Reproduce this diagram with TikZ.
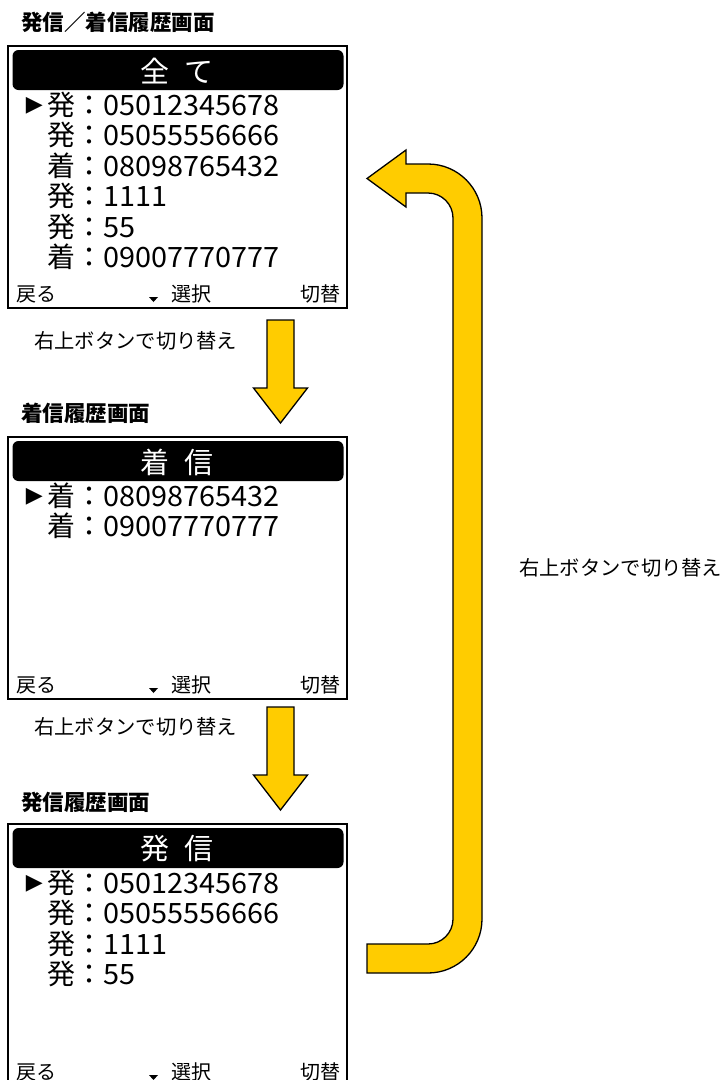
\documentclass[tikz,border=0pt]{standalone}
\usepackage{fontspec}
\setmainfont{Noto Sans CJK JP}
\newfontfamily\jpnum[FakeStretch=1.03]{Noto Sans CJK JP}
\newfontfamily\sym{DejaVu Sans}

\definecolor{arrowyellow}{HTML}{FFCC00}

\newcommand*{\lcdsize}{\fontsize{28}{30}\selectfont}
\newcommand*{\keysize}{\fontsize{20}{22}\selectfont}
\newcommand*{\scrleft}{8}
\newcommand*{\scrright}{347}

\begin{document}
\begin{tikzpicture}[x=1pt,y=-1pt,
	heading/.style={anchor=west,inner sep=0pt,font=\fontsize{21.5}{24}\selectfont\bfseries},
	note/.style={anchor=west,inner sep=0pt,font=\fontsize{20.3}{22}\selectfont},
	bartext/.style={inner sep=0pt,text=white,font=\fontsize{29}{31}\selectfont},
	item/.style={anchor=base west,inner sep=0pt,font=\lcdsize},
	cursor/.style={anchor=east,inner sep=0pt,font=\sym\fontsize{22}{24}\selectfont},
	softkey/.style={anchor=base west,inner sep=0pt,font=\keysize},
	blockarrow/.style={fill=arrowyellow,draw=black,line width=1.3pt,line join=miter}]

	\useasboundingbox (0,0) rectangle (724,1080);
	\clip (0,0) rectangle (724,1080);

	% screen 1: all
	\node[heading] (allhead) at (21,22) {発信／着信履歴画面};
	\draw[line width=2pt] (\scrleft,46) rectangle (\scrright,308);
	\fill[rounded corners=6pt] (12.5,50) rectangle (343.5,90);
	\node[bartext] (allbar) at (177,71) {全\hspace{0.55em}て};
	\node[cursor] (allmark) at (43,106) {▶};
	\foreach \k/\kind/\num in {0/発/05012345678,1/発/05055556666,2/着/08098765432,3/発/1111,4/発/55,5/着/09007770777}
		\node[item] (all\k) at (47,{115+30.5*\k}) {\kind：{\jpnum\num}};
	\node[softkey] (allback) at (16,301) {戻る};
	\fill (149,297) -- (158,297) -- (153.5,302) -- cycle;
	\node[softkey] (allsel) at (171,301) {選択};
	\node[softkey,anchor=base east] (allswitch) at (341,301) {切替};

	% screen 2: incoming
	\begin{scope}[shift={(0,391)}]
		\node[heading] (inhead) at (21,22) {着信履歴画面};
		\draw[line width=2pt] (\scrleft,46) rectangle (\scrright,308);
		\fill[rounded corners=6pt] (12.5,50) rectangle (343.5,90);
		\node[bartext] (inbar) at (177,71) {着\hspace{0.55em}信};
		\node[cursor] (inmark) at (43,106) {▶};
		\foreach \k/\num in {0/08098765432,1/09007770777}
			\node[item] (in\k) at (47,{115+30.5*\k}) {着：{\jpnum\num}};
		\node[softkey] (inback) at (16,301) {戻る};
		\fill (149,297) -- (158,297) -- (153.5,302) -- cycle;
		\node[softkey] (insel) at (171,301) {選択};
		\node[softkey,anchor=base east] (inswitch) at (341,301) {切替};
	\end{scope}

	% screen 3: outgoing
	\begin{scope}[shift={(0,778)}]
		\node[heading] (outhead) at (21,24) {発信履歴画面};
		\draw[line width=2pt] (\scrleft,46) rectangle (\scrright,308);
		\fill[rounded corners=6pt] (12.5,50) rectangle (343.5,90);
		\node[bartext] (outbar) at (177,71) {発\hspace{0.55em}信};
		\node[cursor] (outmark) at (43,106) {▶};
		\foreach \k/\num in {0/05012345678,1/05055556666,2/1111,3/55}
			\node[item] (out\k) at (47,{115+30.5*\k}) {発：{\jpnum\num}};
		\node[softkey] (outback) at (16,301) {戻る};
		\fill (149,297) -- (158,297) -- (153.5,302) -- cycle;
		\node[softkey] (outsel) at (171,301) {選択};
		\node[softkey,anchor=base east] (outswitch) at (341,301) {切替};
	\end{scope}

	% down arrows
	\foreach \dy in {0,387}
		\draw[blockarrow,shift={(0,\dy)}] (267,320) -- (294,320) -- (294,388) -- (307.5,388)
			-- (280.5,423) -- (253.5,388) -- (267,388) -- cycle;
	\node[note] (note1) at (34,341) {右上ボタンで切り替え};
	\node[note] (note2) at (34,727) {右上ボタンで切り替え};

	% return arrow
	\draw[blockarrow] (367,178.5) -- (406,150) -- (406,164) -- (428,164)
		arc[start angle=-90,end angle=0,radius=54] -- (482,919)
		arc[start angle=0,end angle=90,radius=54] -- (367,973) -- (367,944) -- (428,944)
		arc[start angle=90,end angle=0,radius=25] -- (453,218)
		arc[start angle=0,end angle=-90,radius=25] -- (406,193) -- (406,207) -- cycle;
	\node[note] (note3) at (519,568) {右上ボタンで切り替え};

\end{tikzpicture}
\end{document}
